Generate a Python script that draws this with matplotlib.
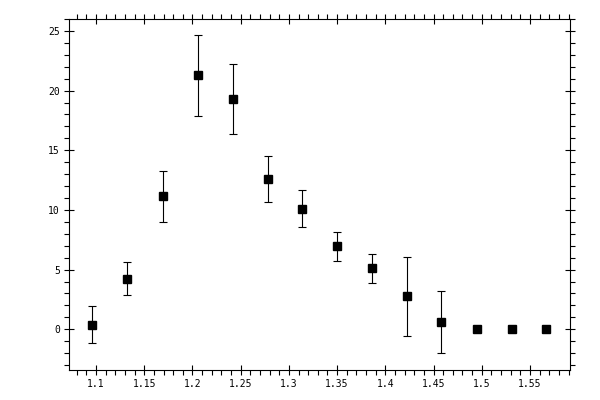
import numpy as np
import matplotlib
matplotlib.use('Agg')
import matplotlib.pyplot as plt
from matplotlib.ticker import MultipleLocator

x_vals = [1.096, 1.1325, 1.169, 1.206, 1.242, 1.278, 1.314,
          1.350, 1.386, 1.422, 1.458, 1.495, 1.531, 1.567]
y_vals = [0.4, 4.25, 11.15, 21.3, 19.3, 12.6, 10.1,
          6.95, 5.1, 2.75, 0.6, 0.0, 0.0, 0.0]
y_err = [1.55, 1.4, 2.15, 3.4, 2.9, 1.93, 1.55,
         1.2, 1.2, 3.27, 2.6, 0.0, 0.0, 0.0]
x_ticks = [1.1, 1.15, 1.2, 1.25, 1.3, 1.35, 1.4, 1.45, 1.5, 1.55]
x_tick_labels = ['1.1', '1.15', '1.2', '1.25', '1.3', '1.35', '1.4', '1.45', '1.5', '1.55']
y_ticks = [0, 5, 10, 15, 20, 25]

fig = plt.figure(figsize=(6, 4), dpi=100)
ax = fig.add_axes([69 / 600, 30 / 400, 501 / 600, 351 / 400])

# points without error bars drawn separately so no zero-length caps show
x = np.array(x_vals)
y = np.array(y_vals)
e = np.array(y_err)
has_err = e > 0
ax.errorbar(x[has_err], y[has_err], yerr=e[has_err], fmt='none', ecolor='black',
            elinewidth=0.8, capsize=3.2, capthick=0.8)
ax.plot(x, y, 's', color='black', markersize=5.8)

ax.set_xlim(1.072, 1.5915)
ax.set_ylim(-3.41, 26.0)
ax.set_xticks(x_ticks)
ax.set_xticklabels(x_tick_labels)
ax.set_yticks(y_ticks)
ax.xaxis.set_minor_locator(MultipleLocator(0.01))
ax.yaxis.set_minor_locator(MultipleLocator(1))

for s in ax.spines.values():
    s.set_linewidth(0.8)
ax.tick_params(which='major', direction='inout', length=7, width=0.8,
               top=True, right=True, labelsize=7, pad=3)
ax.tick_params(which='minor', direction='out', length=3.5, width=0.8,
               top=True, right=True)
for lab in ax.get_xticklabels() + ax.get_yticklabels():
    lab.set_family('DejaVu Sans Mono')

fig.savefig('out.png', dpi=100)
